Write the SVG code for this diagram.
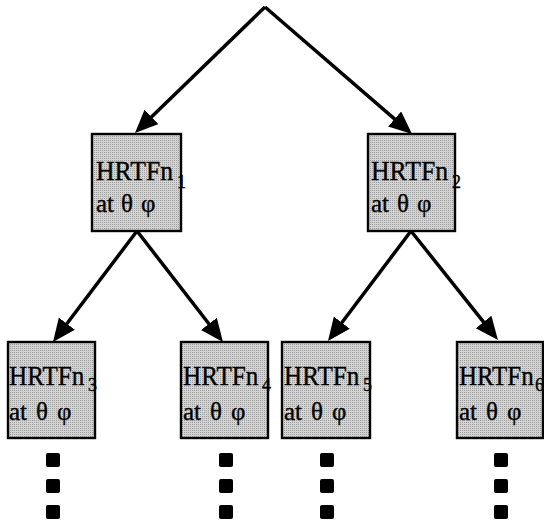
<svg xmlns="http://www.w3.org/2000/svg" width="544" height="520" viewBox="0 0 544 520">
  <style>
    .box { fill: url(#stipple); stroke: #000; stroke-width: 2.4; }
    .lbl { font-family: "Liberation Serif", "Times New Roman", serif; font-size: 28px; fill: #000; stroke: #000; stroke-width: 0.35; }
    .sub { font-size: 18px; }
    .ang { font-size: 25px; }
    .edge { stroke: #000; stroke-width: 3.5; fill: none; marker-end: url(#head); }
    .dot { fill: #000; }
  </style>
  <defs>
    <pattern id="stipple" width="2" height="2" patternUnits="userSpaceOnUse">
      <rect width="2" height="2" fill="#d4d4d4"/>
      <rect width="1" height="1" fill="#9c9c9c"/>
    </pattern>
    <marker id="head" markerUnits="userSpaceOnUse" markerWidth="26" markerHeight="22" refX="17" refY="10" orient="auto">
      <path d="M0,0 L23,10 L0,20 z" fill="#000"/>
    </marker>
  </defs>

  <!-- connectors: tip of each head sits 6px past the line end -->
  <g id="connectors">
    <line class="edge" x1="265" y1="7" x2="139.3" y2="128.8"/>
    <line class="edge" x1="265" y1="7" x2="407.5" y2="130.1"/>
    <line class="edge" x1="137" y1="231" x2="56.6" y2="337.2"/>
    <line class="edge" x1="137" y1="231" x2="219.3" y2="337.3"/>
    <line class="edge" x1="411" y1="231" x2="331.6" y2="336.2"/>
    <line class="edge" x1="411" y1="231" x2="494.2" y2="335.3"/>
  </g>

  <!-- first level: names are set slightly condensed -->
  <g id="hrtf1">
    <rect class="box" x="92" y="134" width="89" height="97"/>
    <text class="lbl" transform="translate(96,180) scale(0.92,1)">HRTFn</text>
    <text class="lbl sub" x="177" y="188">1</text>
    <text class="lbl ang" y="212"><tspan x="96">at</tspan><tspan x="121">θ</tspan><tspan x="141">φ</tspan></text>
  </g>
  <g id="hrtf2">
    <rect class="box" x="368" y="134" width="87" height="97"/>
    <text class="lbl" transform="translate(371,180) scale(0.92,1)">HRTFn</text>
    <text class="lbl sub" x="452" y="188">2</text>
    <text class="lbl ang" y="212"><tspan x="371">at</tspan><tspan x="397">θ</tspan><tspan x="417">φ</tspan></text>
  </g>

  <!-- second level -->
  <g id="hrtf3">
    <rect class="box" x="8" y="342" width="87" height="96"/>
    <text class="lbl" transform="translate(9,385) scale(0.9,1)">HRTFn</text>
    <text class="lbl sub" x="88" y="391">3</text>
    <text class="lbl ang" y="420"><tspan x="9">at</tspan><tspan x="36">θ</tspan><tspan x="57">φ</tspan></text>
  </g>
  <g id="hrtf4">
    <rect class="box" x="181" y="342" width="87" height="96"/>
    <text class="lbl" transform="translate(183,385) scale(0.9,1)">HRTFn</text>
    <text class="lbl sub" x="262" y="391">4</text>
    <text class="lbl ang" y="420"><tspan x="183">at</tspan><tspan x="210">θ</tspan><tspan x="231">φ</tspan></text>
  </g>
  <g id="hrtf5">
    <rect class="box" x="282" y="342" width="88" height="96"/>
    <text class="lbl" transform="translate(284,385) scale(0.9,1)">HRTFn</text>
    <text class="lbl sub" x="363" y="391">5</text>
    <text class="lbl ang" y="420"><tspan x="284">at</tspan><tspan x="311">θ</tspan><tspan x="332">φ</tspan></text>
  </g>
  <g id="hrtf6">
    <rect class="box" x="457" y="342" width="86" height="96"/>
    <text class="lbl" transform="translate(459,385) scale(0.89,1)">HRTFn</text>
    <text class="lbl sub" x="535" y="391">6</text>
    <text class="lbl ang" y="420"><tspan x="459">at</tspan><tspan x="486">θ</tspan><tspan x="507">φ</tspan></text>
  </g>

  <!-- continuation marks -->
  <g id="more">
    <rect class="dot" x="46" y="453" width="14" height="14" rx="2"/>
    <rect class="dot" x="46" y="479" width="14" height="14" rx="2"/>
    <rect class="dot" x="46" y="505" width="14" height="14" rx="2"/>
    <rect class="dot" x="219" y="453" width="14" height="14" rx="2"/>
    <rect class="dot" x="219" y="479" width="14" height="14" rx="2"/>
    <rect class="dot" x="219" y="505" width="14" height="14" rx="2"/>
    <rect class="dot" x="320" y="453" width="14" height="14" rx="2"/>
    <rect class="dot" x="320" y="479" width="14" height="14" rx="2"/>
    <rect class="dot" x="320" y="505" width="14" height="14" rx="2"/>
    <rect class="dot" x="494" y="453" width="14" height="14" rx="2"/>
    <rect class="dot" x="494" y="479" width="14" height="14" rx="2"/>
    <rect class="dot" x="494" y="505" width="14" height="14" rx="2"/>
  </g>
</svg>
